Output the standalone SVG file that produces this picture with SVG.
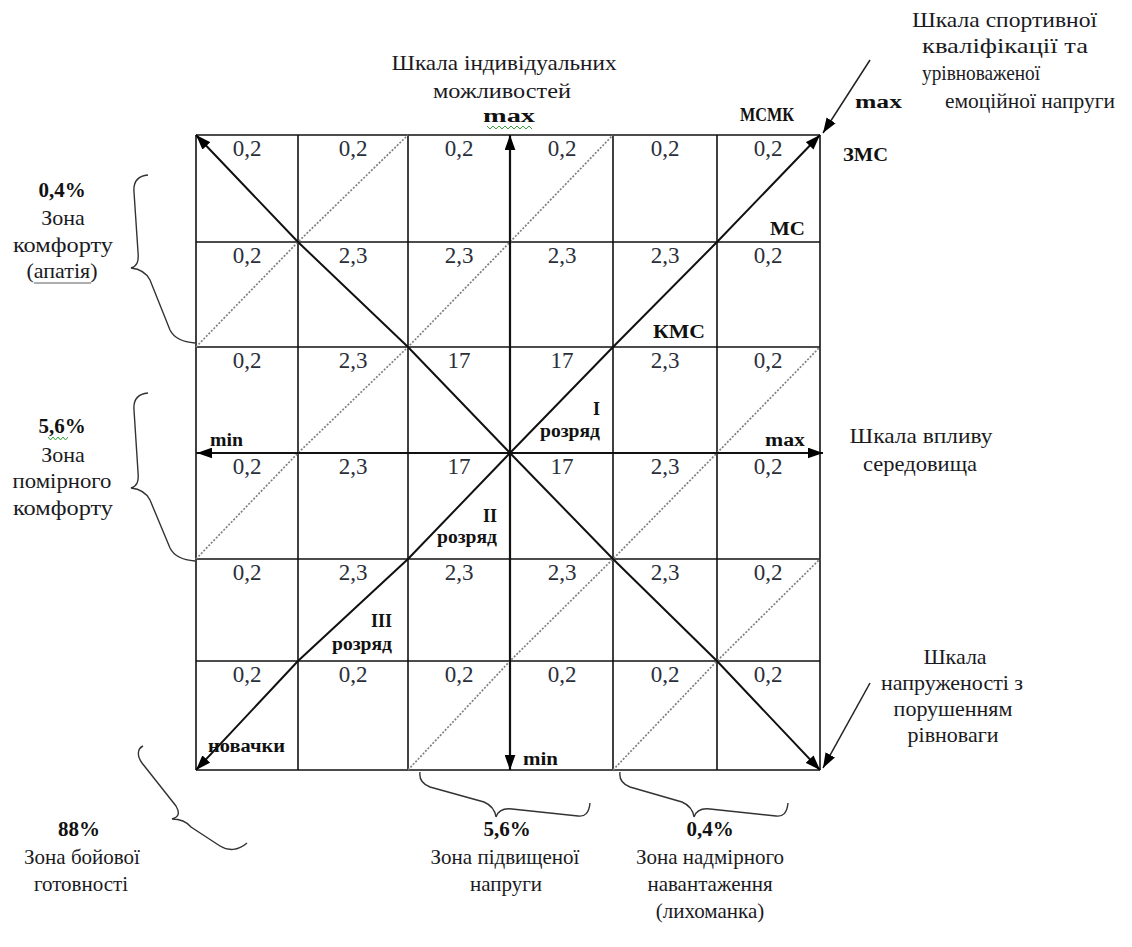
<svg xmlns="http://www.w3.org/2000/svg" width="1132" height="947" viewBox="0 0 1132 947">
<defs>
<style>
.grid line{stroke:#111;stroke-width:1.6}
.cell{font-family:'Liberation Serif','Times New Roman',serif;font-size:23px;fill:#2a2f3a;text-anchor:middle}
.lbl{font-family:'Liberation Serif','Times New Roman',serif;font-size:22px;fill:#1a1a22}
.b{font-family:'Liberation Serif','Times New Roman',serif;font-size:18px;font-weight:bold;fill:#111}
.c{text-anchor:middle}
.e{text-anchor:end}
.solid{fill:none;stroke:#111;stroke-width:2}
.axis{fill:none;stroke:#111;stroke-width:2.2}
.dot{fill:none;stroke:#808080;stroke-width:1.7;stroke-dasharray:2 1.6}
.brace{fill:none;stroke:#333;stroke-width:1.4}
.ext{fill:none;stroke:#222;stroke-width:1.5}
.sq{fill:none;stroke:#3aa03a;stroke-width:1}
</style>
<marker id="ah" viewBox="0 0 14 10" refX="14" refY="5" markerWidth="15" markerHeight="11" markerUnits="userSpaceOnUse" orient="auto-start-reverse">
<path d="M0,0 L14,5 L0,10 z" fill="#000"/>
</marker>
</defs>
<rect width="1132" height="947" fill="#fff"/>

<g id="grid" class="grid">
<line x1="196" y1="135" x2="820" y2="135"/>
<line x1="196" y1="242" x2="820" y2="242"/>
<line x1="196" y1="347" x2="820" y2="347"/>
<line x1="196" y1="453" x2="820" y2="453"/>
<line x1="196" y1="559" x2="820" y2="559"/>
<line x1="196" y1="661" x2="820" y2="661"/>
<line x1="196" y1="770" x2="820" y2="770"/>
<line x1="196" y1="135" x2="196" y2="770"/>
<line x1="298" y1="135" x2="298" y2="770"/>
<line x1="408" y1="135" x2="408" y2="770"/>
<line x1="510" y1="135" x2="510" y2="770"/>
<line x1="613" y1="135" x2="613" y2="770"/>
<line x1="717" y1="135" x2="717" y2="770"/>
<line x1="820" y1="135" x2="820" y2="770"/>
</g>

<g id="cells" class="cell">
<text x="247" y="156">0,2</text><text x="353" y="156">0,2</text><text x="459" y="156">0,2</text><text x="562" y="156">0,2</text><text x="665" y="156">0,2</text><text x="768" y="156">0,2</text>
<text x="247" y="263">0,2</text><text x="353" y="263">2,3</text><text x="459" y="263">2,3</text><text x="562" y="263">2,3</text><text x="665" y="263">2,3</text><text x="768" y="263">0,2</text>
<text x="247" y="368">0,2</text><text x="353" y="368">2,3</text><text x="459" y="368">17</text><text x="562" y="368">17</text><text x="665" y="368">2,3</text><text x="768" y="368">0,2</text>
<text x="247" y="474">0,2</text><text x="353" y="474">2,3</text><text x="459" y="474">17</text><text x="562" y="474">17</text><text x="665" y="474">2,3</text><text x="768" y="474">0,2</text>
<text x="247" y="580">0,2</text><text x="353" y="580">2,3</text><text x="459" y="580">2,3</text><text x="562" y="580">2,3</text><text x="665" y="580">2,3</text><text x="768" y="580">0,2</text>
<text x="247" y="682">0,2</text><text x="353" y="682">0,2</text><text x="459" y="682">0,2</text><text x="562" y="682">0,2</text><text x="665" y="682">0,2</text><text x="768" y="682">0,2</text>
</g>

<g id="connectors">
<polyline class="dot" points="196,347 298,242 408,135"/>
<polyline class="dot" points="196,559 298,453 408,347 510,242 613,135"/>
<polyline class="dot" points="408,770 510,661 613,559 717,453 820,347"/>
<polyline class="dot" points="613,770 717,661 820,559"/>
<polyline class="solid" points="196,770 298,661 408,559 510,453 613,347 717,242 820,135" marker-start="url(#ah)" marker-end="url(#ah)"/>
<polyline class="solid" points="196,135 298,242 408,347 510,453 613,559 717,661 820,770" marker-start="url(#ah)" marker-end="url(#ah)"/>
<line class="axis" x1="510" y1="770" x2="510" y2="135" marker-start="url(#ah)" marker-end="url(#ah)"/>
<line class="axis" x1="197" y1="453" x2="823" y2="453" marker-start="url(#ah)" marker-end="url(#ah)"/>
<line class="ext" x1="870" y1="60" x2="823" y2="133" marker-end="url(#ah)"/>
<line class="ext" x1="870" y1="683" x2="823" y2="768" marker-end="url(#ah)"/>
<path class="brace" d="M148,175 C138,176 133,181 134,192 L138,252 C139,262 137,266 131,268 C140,269 146,272 150,280 L170,330 C174,338 182,342 195,343"/>
<path class="brace" d="M148,393 C138,394 133,399 134,410 L138,472 C139,482 137,486 131,488 C140,489 146,492 150,500 L170,548 C174,556 182,560 195,561"/>
<path class="brace" d="M143,746 C137,749 137,756 142,763 L176,806 C180,813 179,817 172,819 C180,819 186,821 191,827 L220,846 C228,851 238,851 247,843"/>
<path class="brace" d="M420,772 C419,779 422,784 430,787 L484,802 C491,805 495,810 496,817 C498,811 503,808 512,809 L578,816 C585,817 589,813 590,803"/>
<path class="brace" d="M620,772 C619,779 622,784 630,787 L682,802 C689,805 693,810 694,817 C696,811 701,808 710,809 L776,816 C783,817 787,813 788,803"/>
</g>

<g id="axis-labels">
<text class="b" x="509" y="122" text-anchor="middle" textLength="52" lengthAdjust="spacingAndGlyphs">max</text>
<path class="sq" d="M487,126 l3,3 l3,-3 l3,3 l3,-3 l3,3 l3,-3 l3,3 l3,-3 l3,3 l3,-3 l3,3 l3,-3 l3,3 l3,-3 l3,3"/>
<text class="b" x="210" y="446" textLength="33" lengthAdjust="spacingAndGlyphs">min</text>
<text class="b" x="765" y="446" textLength="40" lengthAdjust="spacingAndGlyphs">max</text>
<text class="b" x="523" y="765" textLength="35" lengthAdjust="spacingAndGlyphs">min</text>
</g>

<g id="ranks">
<text class="b" x="740" y="121" textLength="54" lengthAdjust="spacingAndGlyphs">МСМК</text>
<text class="b" x="843" y="161" textLength="45" lengthAdjust="spacingAndGlyphs">ЗМС</text>
<text class="b" x="770" y="235" textLength="35" lengthAdjust="spacingAndGlyphs">МС</text>
<text class="b" x="653" y="338" textLength="52" lengthAdjust="spacingAndGlyphs">КМС</text>
<text class="b e" x="600" y="415">I</text>
<text class="b e" x="600" y="437" textLength="60" lengthAdjust="spacingAndGlyphs">розряд</text>
<text class="b e" x="497" y="522">II</text>
<text class="b e" x="497" y="543" textLength="60" lengthAdjust="spacingAndGlyphs">розряд</text>
<text class="b e" x="392" y="627">III</text>
<text class="b e" x="392" y="650" textLength="60" lengthAdjust="spacingAndGlyphs">розряд</text>
<text class="b" x="208" y="752" textLength="77" lengthAdjust="spacingAndGlyphs">новачки</text>
</g>

<g id="scale-individual" class="lbl">
<text x="504" y="70" text-anchor="middle" textLength="225" lengthAdjust="spacingAndGlyphs">Шкала індивідуальних</text>
<text x="502" y="98" text-anchor="middle" textLength="138" lengthAdjust="spacingAndGlyphs">можливостей</text>
</g>

<g id="scale-qualification">
<text class="lbl" x="912" y="27" textLength="185" lengthAdjust="spacingAndGlyphs">Шкала спортивної</text>
<text class="lbl" x="922" y="53" textLength="166" lengthAdjust="spacingAndGlyphs">кваліфікації  та</text>
<text class="lbl" x="922" y="80" textLength="118" lengthAdjust="spacingAndGlyphs">урівноваженої</text>
<text class="b" x="855" y="108" textLength="47" lengthAdjust="spacingAndGlyphs">max</text>
<text class="lbl" x="945" y="108" textLength="170" lengthAdjust="spacingAndGlyphs">емоційної  напруги</text>
</g>

<g id="scale-environment" class="lbl">
<text x="921" y="443" text-anchor="middle" textLength="143" lengthAdjust="spacingAndGlyphs">Шкала впливу</text>
<text x="920" y="471" text-anchor="middle" textLength="114" lengthAdjust="spacingAndGlyphs">середовища</text>
</g>

<g id="scale-tension" class="lbl">
<text x="955" y="664" text-anchor="middle">Шкала</text>
<text x="952" y="690" text-anchor="middle">напруженості  з</text>
<text x="953" y="716" text-anchor="middle">порушенням</text>
<text x="953" y="742" text-anchor="middle">рівноваги</text>
</g>

<g id="zone-comfort">
<text class="b c" x="62" y="197" style="font-size:21px">0,4%</text>
<text class="lbl c" x="63" y="225">Зона</text>
<text class="lbl c" x="63" y="252" textLength="100" lengthAdjust="spacingAndGlyphs">комфорту</text>
<text class="lbl c" x="62" y="278">(апатія)</text>
<line x1="34" y1="283" x2="91" y2="283" stroke="#333" stroke-width="0.8"/>
</g>

<g id="zone-moderate">
<text class="b c" x="62" y="433" style="font-size:21px">5,6%</text>
<path class="sq" d="M48,437 l2.5,3 l2.5,-3 l2.5,3 l2.5,-3 l2.5,3 l2.5,-3 l2.5,3 l2.5,-3"/>
<text class="lbl c" x="63" y="462">Зона</text>
<text class="lbl c" x="62" y="488" textLength="99" lengthAdjust="spacingAndGlyphs">помірного</text>
<text class="lbl c" x="63" y="515" textLength="100" lengthAdjust="spacingAndGlyphs">комфорту</text>
</g>

<g id="zone-combat">
<text class="b c" x="79" y="836" style="font-size:21px">88%</text>
<text class="lbl c" x="82" y="864" style="font-size:21px">Зона бойової</text>
<text class="lbl c" x="81" y="891" style="font-size:21px">готовності</text>
</g>

<g id="zone-elevated">
<text class="b c" x="507" y="836" style="font-size:21px">5,6%</text>
<text class="lbl c" x="505" y="864" style="font-size:21px">Зона підвищеної</text>
<text class="lbl c" x="506" y="891" style="font-size:21px">напруги</text>
</g>

<g id="zone-overload">
<text class="b c" x="710" y="836" style="font-size:21px">0,4%</text>
<text class="lbl c" x="710" y="864" style="font-size:21px">Зона надмірного</text>
<text class="lbl c" x="710" y="891" style="font-size:21px">навантаження</text>
<text class="lbl c" x="710" y="918" style="font-size:21px">(лихоманка)</text>
</g>
</svg>
